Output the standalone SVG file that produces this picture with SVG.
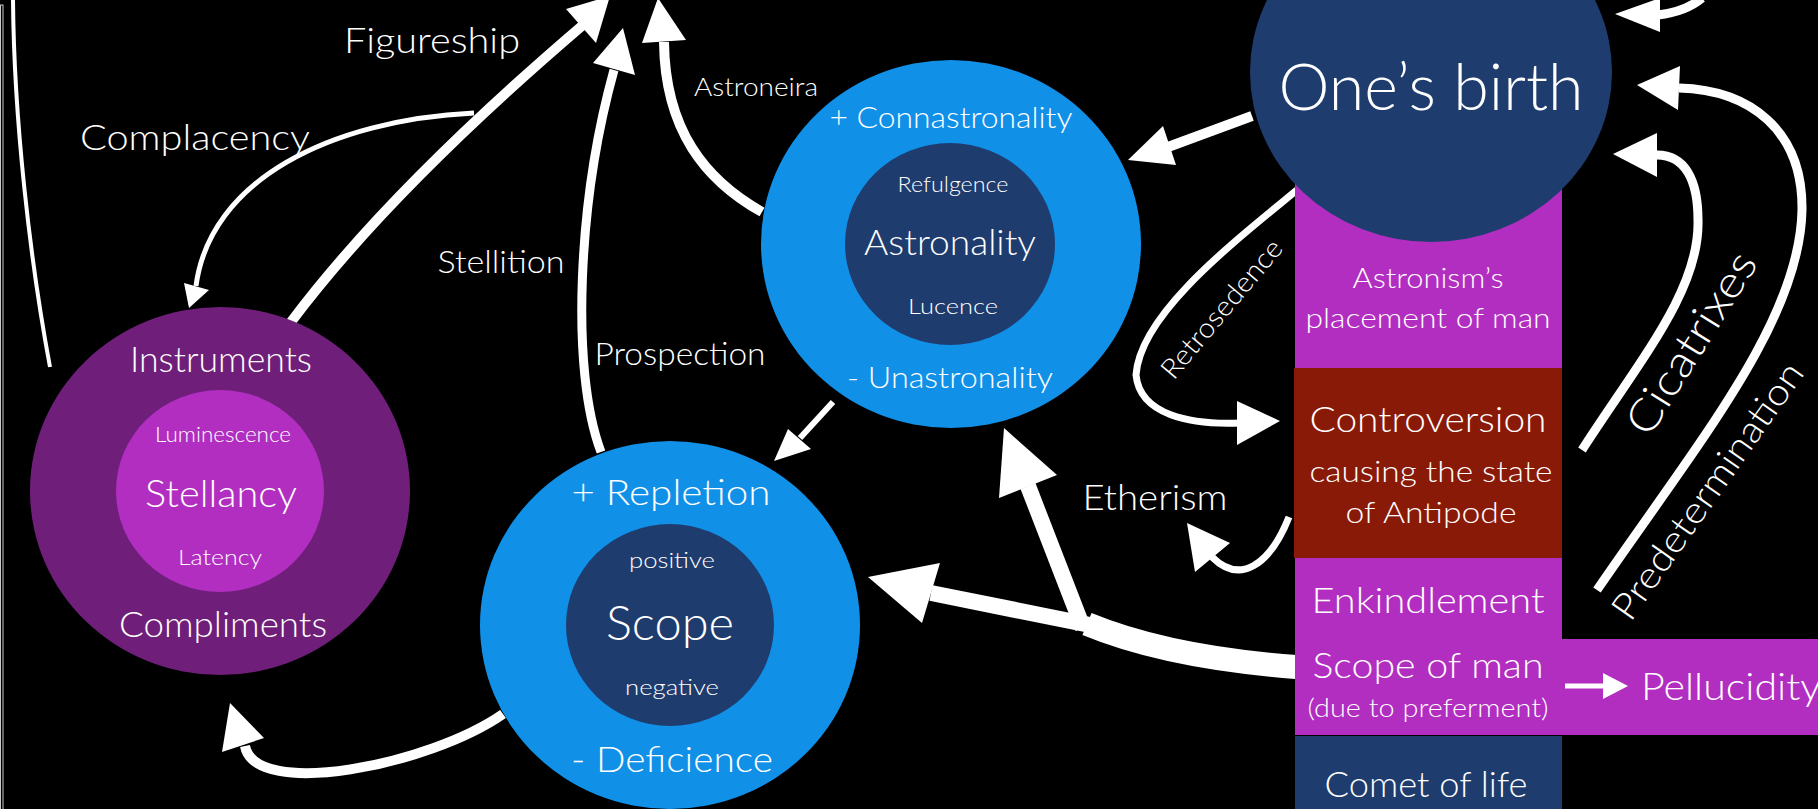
<svg xmlns="http://www.w3.org/2000/svg" width="1818" height="809" viewBox="0 0 1818 809">
<style>
text{font-family:"Lato Light",Lato,"Open Sans","Noto Sans",sans-serif;font-weight:300;fill:#fff;text-anchor:middle}
.c{fill:none;stroke:#fff;stroke-linecap:butt}
.h{fill:#fff;stroke:none}
.navy{fill:#1f3c6e}
.blue{fill:#1190e8}
.plum{fill:#6f1f7a}
.mag{fill:#b22ec1}
.red{fill:#8a1a08}
</style>
<rect x="0" y="0" width="1818" height="809" fill="#000"/>
<g id="frame">
<rect x="0.5" y="5" width="2.5" height="820" fill="none" stroke="#ccc" stroke-width="1"/>
</g>
<g id="connectors">
<path class="c" stroke-width="4" d="M13,0 C14,120 30,260 50,367"/>
<path class="c" stroke-width="10" d="M291,322 Q390,190 583,25"/>
<polygon class="h" points="610,-4 566,9 596,43"/>
<path class="c" stroke-width="5" d="M474,113 C330,120 210,180 196,286"/>
<polygon class="h" points="189,308 184,283 209,290"/>
<path class="c" stroke-width="9" d="M601,452 C570,370 578,200 614,70"/>
<polygon class="h" points="623,28 593,63 635,75"/>
<path class="c" stroke-width="10" d="M762,212 C705,180 665,130 664,42"/>
<polygon class="h" points="658,-2 642,43 686,40"/>
<path class="c" stroke-width="10" d="M1252,116 L1168,147"/>
<polygon class="h" points="1128,160 1163,126 1176,165"/>
<path class="c" stroke-width="6" d="M833,402 L800,438"/>
<polygon class="h" points="774,461 788,429 811,449"/>
<path class="c" stroke-width="24" d="M1296,667 C1230,662 1150,650 1087,624"/>
<path class="c" stroke-width="16" d="M1090,625 L931,593"/>
<polygon class="h" points="868,577 940,563 922,623"/>
<path class="c" stroke-width="16" d="M1083,628 L1028,486"/>
<polygon class="h" points="1004,428 999,498 1057,475"/>
<path class="c" stroke-width="10" d="M503,714 C430,765 255,800 245,746"/>
<polygon class="h" points="230,703 222,752 264,738"/>
<path class="c" stroke-width="7" d="M1297,190 C1230,245 1140,315 1136,375 C1140,415 1190,425 1240,423"/>
<polygon class="h" points="1280,421 1237,401 1237,445"/>
<path class="c" stroke-width="7" d="M1289,517 C1270,565 1240,585 1212,557"/>
<polygon class="h" points="1187,523 1195,572 1230,543"/>
<path class="c" stroke-width="9" d="M1582,450 C1640,360 1700,290 1698,220 C1698,180 1685,155 1657,155"/>
<polygon class="h" points="1613,154 1657,133 1657,177"/>
<path class="c" stroke-width="9" d="M1597,590 C1700,440 1800,320 1802,210 C1803,130 1750,90 1679,88"/>
<polygon class="h" points="1637,85 1680,66 1678,110"/>
<path class="c" stroke-width="9" d="M1658,15 C1675,13 1690,8 1702,-2"/>
<polygon class="h" points="1615,14 1660,-2 1660,32"/>
</g>
<g id="stellancy">
<ellipse class="plum" cx="220" cy="491" rx="190" ry="184"/>
<ellipse class="mag" cx="220" cy="491" rx="104" ry="101"/>
<text x="221" y="372" font-size="35" textLength="182" lengthAdjust="spacingAndGlyphs">Instruments</text>
<text x="223" y="442" font-size="21" textLength="136" lengthAdjust="spacingAndGlyphs">Luminescence</text>
<text x="221" y="507" font-size="38" textLength="152" lengthAdjust="spacingAndGlyphs">Stellancy</text>
<text x="220" y="565" font-size="22" textLength="84" lengthAdjust="spacingAndGlyphs">Latency</text>
<text x="223" y="637" font-size="35" textLength="208" lengthAdjust="spacingAndGlyphs">Compliments</text>
</g>
<g id="scope">
<ellipse class="blue" cx="670" cy="625" rx="190" ry="184"/>
<ellipse class="navy" cx="670" cy="625" rx="104" ry="101"/>
<text x="671" y="505" font-size="35" textLength="199" lengthAdjust="spacingAndGlyphs">+ Repletion</text>
<text x="672" y="568" font-size="22" textLength="86" lengthAdjust="spacingAndGlyphs">positive</text>
<text x="670" y="640" font-size="47" textLength="128" lengthAdjust="spacingAndGlyphs">Scope</text>
<text x="672" y="695" font-size="22" textLength="94" lengthAdjust="spacingAndGlyphs">negative</text>
<text x="672" y="772" font-size="35" textLength="202" lengthAdjust="spacingAndGlyphs">- Deficience</text>
</g>
<g id="astronality">
<ellipse class="blue" cx="951" cy="244" rx="190" ry="184"/>
<ellipse class="navy" cx="950" cy="244" rx="105" ry="101"/>
<text x="951" y="128" font-size="30" textLength="243" lengthAdjust="spacingAndGlyphs">+ Connastronality</text>
<text x="953" y="192" font-size="22" textLength="111" lengthAdjust="spacingAndGlyphs">Refulgence</text>
<text x="950" y="255" font-size="36" textLength="172" lengthAdjust="spacingAndGlyphs">Astronality</text>
<text x="953" y="314" font-size="22" textLength="90" lengthAdjust="spacingAndGlyphs">Lucence</text>
<text x="950" y="388" font-size="30" textLength="206" lengthAdjust="spacingAndGlyphs">- Unastronality</text>
</g>
<g id="placement">
<rect class="mag" x="1295" y="150" width="267" height="218"/>
<text x="1428" y="288" font-size="28" textLength="151" lengthAdjust="spacingAndGlyphs">Astronism’s</text>
<text x="1428" y="328" font-size="28" textLength="245" lengthAdjust="spacingAndGlyphs">placement of man</text>
</g>
<g id="controversion">
<rect class="red" x="1294" y="368" width="268" height="190"/>
<text x="1428" y="432" font-size="35" textLength="237" lengthAdjust="spacingAndGlyphs">Controversion</text>
<text x="1431" y="482" font-size="30" textLength="243" lengthAdjust="spacingAndGlyphs">causing the state</text>
<text x="1431" y="523" font-size="30" textLength="171" lengthAdjust="spacingAndGlyphs">of Antipode</text>
</g>
<g id="scope-of-man">
<rect class="mag" x="1295" y="558" width="267" height="177"/>
<rect class="mag" x="1561" y="639" width="257" height="96"/>
<text x="1428" y="613" font-size="35" textLength="233" lengthAdjust="spacingAndGlyphs">Enkindlement</text>
<text x="1428" y="678" font-size="35" textLength="231" lengthAdjust="spacingAndGlyphs">Scope of man</text>
<text x="1428" y="717" font-size="26" textLength="241" lengthAdjust="spacingAndGlyphs">(due to preferment)</text>
<path class="c" stroke-width="5" d="M1565,686 L1605,686"/>
<polygon class="h" points="1628,686 1603,673 1603,699"/>
<text x="1641" y="700" font-size="38" style="text-anchor:start" textLength="180" lengthAdjust="spacingAndGlyphs">Pellucidity</text>
</g>
<g id="comet">
<rect class="navy" x="1295" y="736" width="267" height="73"/>
<text x="1426" y="797" font-size="35" textLength="203" lengthAdjust="spacingAndGlyphs">Comet of life</text>
</g>
<g id="birth">
<ellipse class="navy" cx="1431" cy="72" rx="181" ry="170"/>
<text x="1431" y="110" font-size="66" textLength="305" lengthAdjust="spacingAndGlyphs">One’s birth</text>
</g>
<g id="labels">
<text x="432" y="53" font-size="35" textLength="176" lengthAdjust="spacingAndGlyphs">Figureship</text>
<text x="195" y="150" font-size="36" textLength="230" lengthAdjust="spacingAndGlyphs">Complacency</text>
<text x="501" y="273" font-size="31" textLength="127" lengthAdjust="spacingAndGlyphs">Stellition</text>
<text x="680" y="365" font-size="31" textLength="171" lengthAdjust="spacingAndGlyphs">Prospection</text>
<text x="756" y="96" font-size="26" textLength="124" lengthAdjust="spacingAndGlyphs">Astroneira</text>
<text x="1155" y="510" font-size="35" textLength="145" lengthAdjust="spacingAndGlyphs">Etherism</text>
<text transform="translate(1229,315) rotate(-50)" font-size="28" textLength="172" lengthAdjust="spacingAndGlyphs">Retrosedence</text>
<text transform="translate(1704,351) rotate(-58)" font-size="44" textLength="207" lengthAdjust="spacingAndGlyphs">Cicatrixes</text>
<text transform="translate(1718,498) rotate(-55)" font-size="37" textLength="305" lengthAdjust="spacingAndGlyphs">Predetermination</text>
</g>
</svg>
